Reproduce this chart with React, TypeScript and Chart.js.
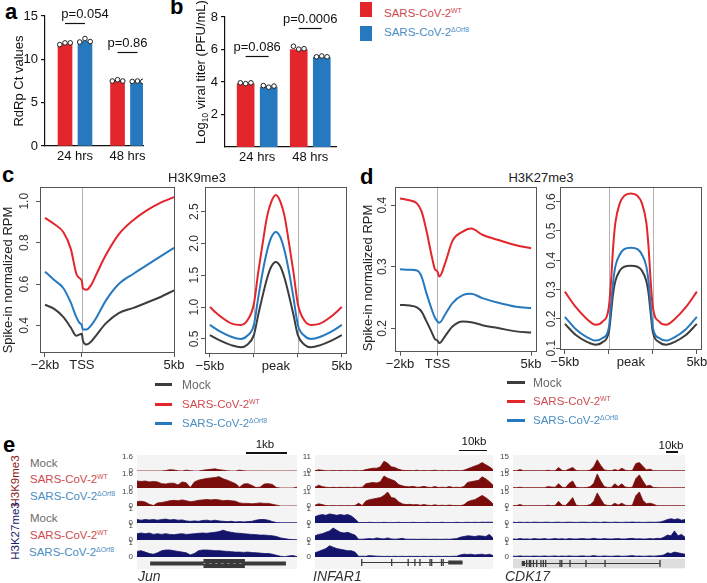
import React, { useEffect, useRef } from 'react';
import { Chart, registerables } from 'chart.js';

Chart.register(...registerables);
const FONT = '"Liberation Sans", Arial, Helvetica, sans-serif';
Chart.defaults.font.family = FONT;

// ---------------- colours ----------------
const RED = '#e2262b';
const BLUE = '#2779bf';
const DARK = '#3d3d3d';
const K9C = '#7a0c0c';
const K27C = '#14146b';
const GENE = '#3a3a3a';

// ---------------- panel a / b data ----------------
const timeLabels = ['24 hrs', '48 hrs'];
const ctWT = [11.8, 7.55];
const ctDel = [12.1, 7.45];
const ctDotsWT = [[11.7, 11.9, 11.9], [7.5, 7.65, 7.5]];
const ctDotsDel = [[12.0, 12.4, 12.05], [7.45, 7.5, 7.45]];
const ctP = ['p=0.054', 'p=0.86'];
const ctPY = [14.2, 10.9];

const titerWT = [3.9, 6.0];
const titerDel = [3.68, 5.52];
const titerDotsWT = [[3.95, 3.9, 3.95], [6.2, 6.02, 6.05]];
const titerDotsDel = [[3.78, 3.68, 3.75], [5.55, 5.6, 5.55]];
const titerP = ['p=0.086', 'p=0.0006'];
const titerPY = [5.58, 7.32];

const dotJitter = [-0.1, 0, 0.1];

// ---------------- panel c / d data ----------------
const tssKbC = [-2, -1.5, -1, -0.6, -0.3, -0.15, 0, 0.05, 0.25, 0.5, 0.8, 1.3, 2, 2.8, 3.5, 4.2, 5];
const k9TssWT = [0.92, 0.89, 0.85, 0.77, 0.65, 0.63, 0.615, 0.58, 0.572, 0.595, 0.65, 0.74, 0.84, 0.91, 0.955, 0.99, 1.02];
const k9TssDel = [0.66, 0.62, 0.58, 0.51, 0.44, 0.415, 0.4, 0.38, 0.38, 0.4, 0.44, 0.52, 0.6, 0.65, 0.69, 0.73, 0.775];
const k9TssMock = [0.5, 0.48, 0.44, 0.39, 0.35, 0.356, 0.36, 0.33, 0.308, 0.322, 0.355, 0.41, 0.46, 0.485, 0.51, 0.535, 0.57];

const peakPosC = [-1, -0.75, -0.5, -0.3, -0.15, 0, 0.1, 0.2, 0.3, 0.4, 0.5, 0.6, 0.7, 0.8, 0.9, 1, 1.15, 1.3, 1.5, 1.75, 2];
const k9PeakWT = [1.0, 0.85, 0.74, 0.72, 0.79, 1.05, 1.55, 2.0, 2.42, 2.66, 2.76, 2.66, 2.42, 2.0, 1.55, 1.05, 0.79, 0.72, 0.74, 0.85, 1.0];
const k9PeakDel = [0.72, 0.61, 0.53, 0.5, 0.55, 0.72, 1.15, 1.55, 1.88, 2.1, 2.18, 2.1, 1.88, 1.55, 1.15, 0.72, 0.55, 0.5, 0.53, 0.61, 0.72];
const k9PeakMock = [0.56, 0.47, 0.4, 0.37, 0.41, 0.56, 0.88, 1.18, 1.45, 1.64, 1.71, 1.64, 1.45, 1.18, 0.88, 0.56, 0.41, 0.37, 0.4, 0.47, 0.56];

const tssKbD = [-2, -1.5, -1.1, -0.85, -0.6, -0.3, -0.15, 0, 0.1, 0.4, 0.8, 1.35, 1.8, 2.4, 3.3, 4.2, 5];
const k27TssWT = [0.411, 0.408, 0.403, 0.39, 0.36, 0.316, 0.297, 0.292, 0.284, 0.305, 0.342, 0.357, 0.362, 0.352, 0.343, 0.335, 0.33];
const k27TssDel = [0.296, 0.295, 0.294, 0.284, 0.258, 0.23, 0.218, 0.211, 0.209, 0.222, 0.241, 0.254, 0.256, 0.249, 0.241, 0.235, 0.233];
const k27TssMock = [0.238, 0.237, 0.234, 0.227, 0.212, 0.193, 0.183, 0.18, 0.176, 0.187, 0.203, 0.211, 0.21, 0.205, 0.2, 0.195, 0.193];

const peakPosD = [-1, -0.75, -0.5, -0.3, -0.15, 0, 0.05, 0.1, 0.15, 0.25, 0.35, 0.5, 0.65, 0.75, 0.85, 0.9, 0.95, 1, 1.15, 1.3, 1.5, 1.75, 2];
const k27PeakWT = [0.293, 0.24, 0.2, 0.18, 0.19, 0.24, 0.33, 0.45, 0.53, 0.595, 0.62, 0.628, 0.62, 0.595, 0.53, 0.45, 0.33, 0.24, 0.19, 0.18, 0.2, 0.24, 0.293];
const k27PeakDel = [0.207, 0.165, 0.138, 0.126, 0.134, 0.17, 0.25, 0.33, 0.38, 0.42, 0.438, 0.443, 0.438, 0.42, 0.38, 0.33, 0.25, 0.17, 0.134, 0.126, 0.138, 0.165, 0.207];
const k27PeakMock = [0.183, 0.145, 0.122, 0.112, 0.12, 0.155, 0.22, 0.29, 0.33, 0.365, 0.378, 0.381, 0.378, 0.365, 0.33, 0.29, 0.22, 0.155, 0.12, 0.112, 0.122, 0.145, 0.183];

const tssTicks = [-2, 0, 5];
const tssTickLabels = ['\u22122kb', 'TSS', '5kb'];
const peakTicks = [-1, 0, 0.5, 1, 2];
const peakTickLabels = ['\u22125kb', '', 'peak', '', '5kb'];

// ---------------- panel e data (browser tracks) ----------------
const junK9Mock = [0, 0, 0, 0, 0, 0, 0, 0.05, 0.15, 0.12, 0.02, 0, 0.1, 0.03, 0, 0, 0.08, 0.15, 0.2, 0.25, 0.15, 0.1, 0.02, 0, 0, 0.1, 0.02, 0, 0, 0, 0, 0, 0, 0, 0, 0, 0, 0, 0, 0];
const junK9WT = [0.8, 0.75, 0.8, 0.7, 0.75, 0.7, 0.5, 0.45, 0.55, 0.55, 0.35, 0.7, 0.6, 0.05, 0.7, 0.9, 1.0, 1.1, 1.15, 1.2, 1.3, 1.05, 0.9, 0.7, 0.5, 0.1, 0.45, 0.5, 0.3, 0.05, 0.1, 0.45, 0.5, 0.4, 0.05, 0, 0, 0, 0, 0.1];
const junK9Del = [0.5, 0.55, 0.45, 0.2, 0.05, 0.35, 0.4, 0.5, 0.6, 0.65, 0.6, 0.7, 0.6, 0.5, 0.55, 0.65, 0.7, 0.75, 0.7, 0.75, 0.7, 0.6, 0.65, 0.6, 0.55, 0.35, 0.3, 0.3, 0.25, 0.3, 0.35, 0.3, 0.3, 0.2, 0.1, 0, 0, 0, 0, 0];
const junK27Mock = [0.25, 0.2, 0.25, 0.22, 0.25, 0.2, 0.25, 0.28, 0.22, 0.25, 0.2, 0.22, 0.15, 0.12, 0.15, 0.12, 0.18, 0.2, 0.15, 0.2, 0.15, 0.12, 0.1, 0.12, 0.08, 0.1, 0.08, 0.1, 0.12, 0.2, 0.25, 0.25, 0.2, 0.1, 0.03, 0.02, 0.02, 0.02, 0.02, 0.02];
const junK27WT = [0.45, 0.5, 0.45, 0.5, 0.4, 0.45, 0.4, 0.45, 0.4, 0.38, 0.42, 0.45, 0.4, 0.42, 0.45, 0.48, 0.5, 0.48, 0.52, 0.55, 0.6, 0.7, 0.6, 0.55, 0.5, 0.48, 0.45, 0.42, 0.4, 0.38, 0.35, 0.35, 0.33, 0.3, 0.25, 0.15, 0.1, 0.05, 0.03, 0.02];
const junK27Del = [0.4, 0.45, 0.35, 0.25, 0.2, 0.3, 0.45, 0.5, 0.5, 0.45, 0.4, 0.35, 0.3, 0.15, 0.25, 0.45, 0.5, 0.5, 0.48, 0.45, 0.45, 0.42, 0.4, 0.38, 0.35, 0.35, 0.33, 0.35, 0.32, 0.3, 0.28, 0.25, 0.25, 0.2, 0.12, 0.05, 0.02, 0.08, 0.1, 0.03];

const infK9Mock = [0.3, 0.9, 0.6, 0.2, 0.2, 0.3, 0.2, 0.4, 0.2, 0.3, 0.2, 0.3, 0.2, 0.3, 1.1, 1.7, 2.2, 2.2, 3.3, 7.7, 6.1, 3.3, 2.8, 1.3, 0.6, 0.3, 0.4, 0.2, 0.6, 0.2, 0.4, 0.2, 0.3, 0.6, 0.2, 0.3, 0.2, 0.4, 0.2, 0.3, 0.2, 0.6, 1.7, 2.8, 3.9, 5, 6.6, 5, 3.3, 1.1];
const infK9WT = [0.6, 2.2, 1.1, 0.6, 0.3, 0.6, 0.3, 0.6, 0.3, 0.6, 0.3, 0.6, 0.4, 0.6, 3.3, 3.9, 4.4, 3.9, 5, 9.4, 7.7, 6.6, 5.5, 2.8, 1.7, 1.1, 0.9, 1.3, 0.6, 0.7, 1.3, 0.6, 0.4, 1.1, 0.4, 0.6, 0.4, 1.1, 0.4, 0.6, 0.4, 1.1, 4.4, 5, 5.5, 6.1, 8.8, 7.2, 5, 2.2];
const infK9Del = [0.6, 1.7, 1.1, 0.3, 0.2, 0.3, 0.2, 0.3, 0.2, 0.3, 0.2, 0.3, 2.2, 0.3, 3.9, 5, 5.5, 6.1, 6.6, 8.3, 11, 6.6, 6.1, 3.3, 1.7, 1.1, 1.3, 0.9, 1.1, 0.6, 1.1, 0.6, 0.4, 0.9, 0.4, 0.6, 0.4, 0.7, 0.4, 0.4, 0.3, 0.9, 3.3, 4.4, 5, 6.6, 8.3, 6.6, 4.4, 1.7];
const infK27Mock = [0.45, 0.55, 0.6, 0.55, 0.65, 0.6, 0.55, 0.6, 0.55, 0.6, 0.5, 0.3, 0.03, 0.04, 0.03, 0.05, 0.03, 0.04, 0.03, 0.05, 0.03, 0.04, 0.03, 0.05, 0.03, 0.04, 0.03, 0.05, 0.03, 0.04, 0.03, 0.05, 0.03, 0.04, 0.03, 0.05, 0.03, 0.04, 0.03, 0.05, 0.03, 0.04, 0.05, 0.04, 0.05, 0.04, 0.06, 0.05, 0.06, 0.05];
const infK27WT = [0.3, 0.4, 0.45, 0.55, 0.65, 0.85, 0.7, 0.55, 0.5, 0.55, 0.45, 0.35, 0.05, 0.06, 0.08, 0.1, 0.08, 0.15, 0.1, 0.08, 0.15, 0.08, 0.06, 0.08, 0.12, 0.06, 0.05, 0.06, 0.05, 0.05, 0.06, 0.05, 0.05, 0.06, 0.05, 0.05, 0.06, 0.05, 0.08, 0.1, 0.2, 0.25, 0.3, 0.28, 0.25, 0.3, 0.28, 0.25, 0.4, 0.15];
const infK27Del = [0.3, 0.4, 0.5, 0.6, 0.8, 0.7, 0.6, 0.55, 0.5, 0.45, 0.45, 0.35, 0.05, 0.06, 0.05, 0.1, 0.08, 0.06, 0.05, 0.04, 0.05, 0.04, 0.05, 0.04, 0.05, 0.04, 0.05, 0.04, 0.05, 0.04, 0.05, 0.04, 0.05, 0.04, 0.05, 0.04, 0.05, 0.04, 0.05, 0.06, 0.15, 0.2, 0.18, 0.2, 0.15, 0.18, 0.2, 0.15, 0.2, 0.1];

const cdkK9Mock = [0.3, 0.3, 1.5, 0.3, 0.3, 0.3, 0.3, 0.3, 0.3, 0.3, 0.8, 0.3, 0.3, 3.8, 0.5, 0.4, 2.2, 3.8, 0.5, 0.3, 0.3, 0.3, 1, 4.5, 12, 6, 1.2, 0.5, 0.4, 1.5, 0.5, 3, 0.8, 0.4, 0.6, 8, 9, 5, 1.2, 2, 0.4, 0.3, 0.3, 0.3, 0.3, 0.3, 0.3, 0.3, 0.3, 0.3];
const cdkK9WT = [0.4, 0.4, 0.8, 0.3, 0.3, 0.4, 0.3, 0.4, 0.3, 0.4, 1.5, 1, 0.8, 4.5, 0.8, 0.6, 5, 7.5, 0.8, 0.4, 0.4, 0.5, 1.5, 5, 15, 7.5, 1.5, 0.6, 0.6, 4.5, 1.5, 4.5, 1, 0.5, 0.8, 10, 14, 7.5, 2, 3, 0.6, 0.4, 0.3, 0.3, 0.3, 0.3, 0.3, 0.3, 0.3, 0.3];
const cdkK9Del = [0.4, 0.5, 1.5, 0.4, 0.3, 0.4, 0.3, 0.4, 0.3, 0.4, 0.8, 0.4, 0.6, 5, 0.8, 0.5, 4.5, 9, 0.8, 0.4, 0.4, 0.5, 1.5, 5, 14, 7.5, 1.5, 0.6, 0.5, 3, 1, 3, 0.8, 0.5, 0.8, 11, 15, 6, 2.5, 3, 2, 0.4, 0.3, 0.3, 0.3, 0.3, 0.3, 0.3, 0.3, 0.3];
const cdkK27Mock = [0.05, 0.04, 0.06, 0.04, 0.05, 0.04, 0.06, 0.05, 0.04, 0.06, 0.05, 0.04, 0.05, 0.06, 0.04, 0.05, 0.06, 0.05, 0.04, 0.05, 0.06, 0.05, 0.04, 0.06, 0.05, 0.04, 0.07, 0.05, 0.04, 0.06, 0.05, 0.04, 0.06, 0.05, 0.07, 0.05, 0.06, 0.04, 0.05, 0.06, 0.05, 0.06, 0.08, 0.15, 0.25, 0.3, 0.25, 0.3, 0.2, 0.25];
const cdkK27WT = [0.08, 0.06, 0.1, 0.07, 0.08, 0.06, 0.1, 0.08, 0.07, 0.1, 0.06, 0.08, 0.1, 0.07, 0.09, 0.06, 0.1, 0.08, 0.07, 0.09, 0.1, 0.07, 0.08, 0.12, 0.08, 0.07, 0.1, 0.08, 0.07, 0.09, 0.1, 0.07, 0.08, 0.1, 0.12, 0.08, 0.09, 0.07, 0.08, 0.1, 0.08, 0.12, 0.1, 0.2, 0.35, 0.3, 0.65, 0.3, 0.4, 0.2];
const cdkK27Del = [0.06, 0.05, 0.08, 0.05, 0.06, 0.05, 0.07, 0.06, 0.05, 0.08, 0.05, 0.06, 0.08, 0.05, 0.07, 0.05, 0.08, 0.06, 0.05, 0.07, 0.08, 0.05, 0.06, 0.1, 0.06, 0.05, 0.08, 0.06, 0.05, 0.07, 0.08, 0.05, 0.06, 0.08, 0.1, 0.06, 0.07, 0.05, 0.06, 0.08, 0.06, 0.08, 0.1, 0.15, 0.3, 0.25, 0.35, 0.3, 0.25, 0.2];

// gene models (kb within the browser window)
const junWindow = 3.9;
const junIntron = [0.32, 3.63];
const junBlocks = [[1.62, 2.63]];
const junExons: number[] = [];
const infWindow = 63.6;
const infIntron = [16.7, 52.7];
const infBlocks = [[47.6, 52.7]];
const infExons = [16.7, 27.4, 33.3, 35.7, 37.5, 41.1, 41.7, 45.2, 45.8];
const cdkWindow = 143.3;
const cdkIntron = [7.3, 122.5];
const cdkBlocks = [[7.3, 10]];
const cdkExons = [11.4, 13.6, 14.75, 17, 19.75, 23.3, 25.25, 27.25, 39.2, 40.6, 47.5, 60.8, 76.7, 122.5];

// ---------------- helpers ----------------
const noPad = (s: any) => {
  s.paddingLeft = 0;
  s.paddingRight = 0;
  s.paddingTop = 0;
  s.paddingBottom = 0;
};

// ---------------- plugins ----------------
const framePlugin = {
  id: 'frame',
  beforeDatasetsDraw(chart: any, _a: any, opts: any) {
    const { ctx, chartArea: a } = chart;
    const xs = chart.scales.x;
    ctx.save();
    ctx.strokeStyle = '#b3b3b3';
    ctx.lineWidth = 1;
    (opts.vlines || []).forEach((v: number) => {
      const x = Math.round(xs.getPixelForValue(v)) + 0.5;
      ctx.beginPath();
      ctx.moveTo(x, a.top);
      ctx.lineTo(x, a.bottom);
      ctx.stroke();
    });
    ctx.restore();
  },
  afterDraw(chart: any, _a: any, opts: any) {
    const { ctx, chartArea: a } = chart;
    const ys = chart.scales.y;
    ctx.save();
    ctx.strokeStyle = '#555';
    ctx.lineWidth = 1;
    ctx.strokeRect(Math.round(a.left) + 0.5, Math.round(a.top) + 0.5, Math.round(a.right - a.left) - 1, Math.round(a.bottom - a.top) - 1);
    ctx.fillStyle = '#333';
    ctx.textAlign = 'center';
    ctx.textBaseline = 'middle';
    ctx.font = `12px ${FONT}`;
    const yl = opts.yLabels || [];
    (opts.yTicks || []).forEach((v: number, i: number) => {
      const y = ys.getPixelForValue(v);
      ctx.save();
      ctx.translate(opts.labelX, y);
      ctx.rotate(-Math.PI / 2);
      ctx.fillText(yl[i], 0, 0);
      ctx.restore();
    });
    if (opts.title) {
      ctx.font = `13px ${FONT}`;
      ctx.fillStyle = '#222';
      ctx.save();
      ctx.translate(opts.titleX, opts.titleY);
      ctx.rotate(-Math.PI / 2);
      ctx.fillText(opts.title, 0, 0);
      ctx.restore();
    }
    ctx.restore();
  },
};

const pvalPlugin = {
  id: 'pvals',
  afterDraw(chart: any, _a: any, opts: any) {
    const { ctx } = chart;
    const xs = chart.scales.x;
    const ys = chart.scales.y;
    ctx.save();
    ctx.strokeStyle = '#111';
    ctx.fillStyle = '#111';
    ctx.lineWidth = 1.2;
    ctx.font = `13px ${FONT}`;
    ctx.textAlign = 'center';
    ctx.textBaseline = 'alphabetic';
    const labels = opts.labels || [];
    labels.forEach((lab: string, i: number) => {
      const x0 = xs.getPixelForValue(i - opts.half);
      const x1 = xs.getPixelForValue(i + opts.half);
      const y = Math.round(ys.getPixelForValue(opts.ys[i])) + 0.5;
      ctx.beginPath();
      ctx.moveTo(x0, y);
      ctx.lineTo(x1, y);
      ctx.stroke();
      ctx.fillText(lab, (x0 + x1) / 2 + (opts.dx ? opts.dx[i] : 0), y - 5.5);
    });
    ctx.restore();
  },
};

// ---------------- config builders ----------------
function barConfig(p: any) {
  const { wt, del, dotsWT, dotsDel, half, barPx, xMin, xMax, yMax, yTicks, W, H, area, pLabels, pYs, pDx, title } = p;
  const dots = (arrs: number[][], sign: number) =>
    arrs.flatMap((arr, i) => arr.map((v, j) => ({ x: i + sign * half + dotJitter[j], y: v })));
  const dotDs = (arrs: number[][], sign: number) => ({
    type: 'scatter',
    data: dots(arrs, sign),
    pointRadius: 2.3,
    pointBackgroundColor: '#fff',
    pointBorderColor: '#222',
    pointBorderWidth: 1,
    order: 0,
  });
  return {
    type: 'bar',
    data: {
      datasets: [
        dotDs(dotsWT, -1),
        dotDs(dotsDel, 1),
        { type: 'bar', data: wt.map((v: number, i: number) => ({ x: i - half, y: v })), backgroundColor: RED, barThickness: barPx, grouped: false, order: 1 },
        { type: 'bar', data: del.map((v: number, i: number) => ({ x: i + half, y: v })), backgroundColor: BLUE, barThickness: barPx, grouped: false, order: 1 },
      ],
    },
    options: {
      animation: false,
      responsive: false,
      events: [],
      layout: { autoPadding: false, padding: { left: 0, top: area.t, right: W - area.r, bottom: 0 } },
      plugins: {
        legend: { display: false },
        tooltip: { enabled: false },
        pvals: { labels: pLabels, ys: pYs, half, dx: pDx },
      },
      scales: {
        x: {
          type: 'linear',
          min: xMin,
          max: xMax,
          offset: false,
          bounds: 'data',
          afterBuildTicks: (s: any) => { s.ticks = timeLabels.map((_t, i) => ({ value: i })); },
          afterFit: (s: any) => { s.height = H - area.b; noPad(s); },
          ticks: { autoSkip: false, maxRotation: 0, padding: 3, color: '#111', font: { size: 13 }, callback: (_v: any, i: number) => timeLabels[i] },
          grid: { display: false, drawTicks: false, offset: false },
          border: { display: true, color: '#111', width: 1.2 },
        },
        y: {
          type: 'linear',
          min: 0,
          max: yMax,
          afterBuildTicks: (s: any) => { s.ticks = yTicks.map((v: number) => ({ value: v })); },
          afterFit: (s: any) => { s.width = area.l; noPad(s); },
          ticks: { padding: 3, color: '#111', font: { size: 13 } },
          grid: { display: true, drawOnChartArea: false, drawTicks: true, tickLength: 4, color: '#111', lineWidth: 1.2 },
          border: { display: true, color: '#111', width: 1.2 },
          title: title
            ? { display: true, text: title, color: '#111', font: { size: 13 }, padding: { top: 12, bottom: 0 } }
            : { display: false },
        },
      },
    },
    plugins: [pvalPlugin],
  };
}

function profileConfig(p: any) {
  const { xs, series, xMin, xMax, yMin, yMax, xTicks, xLabels, yTicks, yLabels, vlines, W, H, area, labelX, title, titleX, titleY, hideTick } = p;
  return {
    type: 'line',
    data: {
      datasets: series.map((s: any) => ({
        data: xs.map((x: number, i: number) => ({ x, y: s.values[i] })),
        borderColor: s.color,
        borderWidth: 2,
        pointRadius: 0,
        fill: false,
        cubicInterpolationMode: 'monotone',
      })),
    },
    options: {
      animation: false,
      responsive: false,
      events: [],
      layout: { autoPadding: false, padding: { left: 0, top: area.t, right: W - area.r, bottom: 0 } },
      plugins: {
        legend: { display: false },
        tooltip: { enabled: false },
        frame: { vlines, yTicks, yLabels, labelX, title, titleX, titleY },
      },
      scales: {
        x: {
          type: 'linear',
          min: xMin,
          max: xMax,
          afterBuildTicks: (s: any) => { s.ticks = xTicks.map((v: number) => ({ value: v })); },
          afterFit: (s: any) => { s.height = H - area.b; noPad(s); },
          ticks: { autoSkip: false, maxRotation: 0, minRotation: 0, padding: 1, color: '#222', font: { size: 13 }, callback: (_v: any, i: number) => xLabels[i] },
          grid: {
            display: true,
            drawOnChartArea: false,
            drawTicks: true,
            tickLength: 4,
            color: '#555',
            tickColor: (c: any) => (c.tick && c.tick.value === hideTick ? 'rgba(0,0,0,0)' : '#555'),
          },
          border: { display: false },
        },
        y: {
          type: 'linear',
          min: yMin,
          max: yMax,
          afterBuildTicks: (s: any) => { s.ticks = yTicks.map((v: number) => ({ value: v })); },
          afterFit: (s: any) => { s.width = area.l; noPad(s); },
          ticks: { display: false },
          grid: { display: true, drawOnChartArea: false, drawTicks: true, tickLength: 4, color: '#555' },
          border: { display: false },
        },
      },
    },
    plugins: [framePlugin],
  };
}

function trackConfig(values: number[], max: number, color: string) {
  return {
    type: 'line',
    data: {
      labels: values.map((_v, i) => String(i)),
      datasets: [
        { data: values, borderColor: color, backgroundColor: color, borderWidth: 0.8, pointRadius: 0, fill: 'origin', tension: 0 },
      ],
    },
    options: {
      animation: false,
      responsive: false,
      events: [],
      layout: { autoPadding: false, padding: { top: 4, bottom: 3, left: 0, right: 0 } },
      plugins: { legend: { display: false }, tooltip: { enabled: false } },
      scales: {
        x: { display: false },
        y: {
          min: 0,
          max,
          afterBuildTicks: (s: any) => { s.ticks = [{ value: 0 }, { value: max }]; },
          afterFit: (s: any) => { s.width = 19; noPad(s); },
          ticks: { font: { size: 8 }, color: '#444', padding: 4, autoSkip: false, callback: (v: any) => String(v) },
          grid: { display: false, drawTicks: false },
          border: { display: false },
        },
      },
    },
  };
}

function geneConfig(win: number, intron: number[], intronW: number, blocks: number[][], blockW: number, exons: number[], dashed = false) {
  const blockData: any[] = [];
  blocks.forEach(([a, b]) => {
    blockData.push({ x: a, y: 0 }, { x: b, y: 0 }, { x: b, y: null });
  });
  const datasets: any[] = [];
  if (dashed) {
    datasets.push({ data: blockData, borderColor: '#9a9a9a', borderWidth: 1, borderDash: [2, 4], pointRadius: 0, spanGaps: false });
  }
  datasets.push(
    { data: [{ x: intron[0], y: 0 }, { x: intron[1], y: 0 }], borderColor: GENE, borderWidth: intronW, pointRadius: 0, borderCapStyle: 'butt' },
    { data: blockData, borderColor: GENE, borderWidth: blockW, pointRadius: 0, spanGaps: false, borderCapStyle: 'butt' },
    {
      type: 'scatter',
      data: exons.map((x) => ({ x, y: 0 })),
      pointStyle: 'line',
      pointRotation: 90,
      pointRadius: 3.5,
      pointBorderColor: GENE,
      pointBorderWidth: 1.3,
    }
  );
  return {
    type: 'line',
    data: { datasets },
    options: {
      animation: false,
      responsive: false,
      events: [],
      layout: { autoPadding: false, padding: 0 },
      plugins: { legend: { display: false }, tooltip: { enabled: false } },
      scales: {
        x: { type: 'linear', min: 0, max: win, display: false },
        y: { type: 'linear', min: -1, max: 1, display: false },
      },
    },
  };
}

// ---------------- components ----------------
function ChartCanvas({ x, y, w, h, config }: { x: number; y: number; w: number; h: number; config: () => any }) {
  const ref = useRef<HTMLCanvasElement | null>(null);
  useEffect(() => {
    const chart = new Chart(ref.current as HTMLCanvasElement, config());
    return () => chart.destroy();
  }, []);
  return <canvas ref={ref} width={w} height={h} style={{ position: 'absolute', left: x, top: y, width: w, height: h }} />;
}

function Txt(p: any) {
  const { x, y, children, size = 13, color = '#222', anchor = 'left', bold = false, italic = false, rot = false } = p;
  const tx = anchor === 'center' ? '-50%' : anchor === 'right' ? '-100%' : '0';
  const transform = rot ? 'translate(-50%,-50%) rotate(-90deg)' : `translate(${tx},-50%)`;
  return (
    <div
      style={{
        position: 'absolute',
        left: x,
        top: y,
        transform,
        fontSize: size,
        lineHeight: 1,
        color,
        fontWeight: bold ? 700 : 400,
        fontStyle: italic ? 'italic' : 'normal',
        whiteSpace: 'nowrap',
        fontFamily: FONT,
      }}
    >
      {children}
    </div>
  );
}

const Sup = ({ children }: any) => <span style={{ fontSize: '0.6em', position: 'relative', top: '-0.6em' }}>{children}</span>;
const Sub = ({ children }: any) => <span style={{ fontSize: '0.65em', position: 'relative', top: '0.35em' }}>{children}</span>;

const Box = ({ x, y, w, h, c }: any) => <div style={{ position: 'absolute', left: x, top: y, width: w, height: h, background: c }} />;

const WT_TXT = '#d04a4d';
const DEL_TXT = '#4a8dc2';
const MOCK_TXT = '#6a6a6a';

const trackBaselines = [471, 488, 506, 523, 540, 557];
const trackCols = [
  { left: 137, width: 160, k9Max: 1.6, k27Max: 1, tracks: [junK9Mock, junK9WT, junK9Del, junK27Mock, junK27WT, junK27Del] },
  { left: 315, width: 178, k9Max: 11, k27Max: 1, tracks: [infK9Mock, infK9WT, infK9Del, infK27Mock, infK27WT, infK27Del] },
  { left: 513, width: 172, k9Max: 15, k27Max: 1, tracks: [cdkK9Mock, cdkK9WT, cdkK9Del, cdkK27Mock, cdkK27WT, cdkK27Del] },
];

export default function App() {
  const aW = 152, aH = 170;
  const bW = 185, bH = 170;
  const pH = 210;
  return (
    <div style={{ position: 'fixed', left: 0, top: 0, width: 707, height: 583, background: '#fff', overflow: 'hidden', fontFamily: FONT }}>
      {/* panel letters */}
      <Txt x={5} y={12.4} size={22} bold color="#000">a</Txt>
      <Txt x={170} y={7.4} size={22} bold color="#000">b</Txt>
      <Txt x={2} y={175.4} size={22} bold color="#000">c</Txt>
      <Txt x={360} y={177.4} size={22} bold color="#000">d</Txt>
      <Txt x={3} y={445.4} size={22} bold color="#000">e</Txt>

      {/* panel a */}
      <ChartCanvas
        x={0}
        y={0}
        w={aW}
        h={aH}
        config={() =>
          barConfig({
            wt: ctWT, del: ctDel, dotsWT: ctDotsWT, dotsDel: ctDotsDel,
            half: 0.19, barPx: 14, xMin: -0.571, xMax: 1.295, yMax: 15, yTicks: [0, 5, 10, 15],
            W: aW, H: aH, area: { l: 45, r: 143, t: 16, b: 146 },
            pLabels: ctP, pYs: ctPY, pDx: [10, 0], title: 'RdRp Ct values',
          })
        }
      />

      {/* panel b */}
      <ChartCanvas
        x={160}
        y={0}
        w={bW}
        h={bH}
        config={() =>
          barConfig({
            wt: titerWT, del: titerDel, dotsWT: titerDotsWT, dotsDel: titerDotsDel,
            half: 0.217, barPx: 17, xMin: -0.606, xMax: 1.485, yMax: 8, yTicks: [2, 4, 6, 8],
            W: bW, H: bH, area: { l: 65, r: 176, t: 17, b: 147 },
            pLabels: titerP, pYs: titerPY, pDx: [0, 0],
          })
        }
      />
      <Txt x={200} y={72} rot size={13} color="#111">
        Log<Sub>10</Sub> viral titer (PFU/mL)
      </Txt>

      {/* top-right legend */}
      <Box x={360} y={2} w={12} h={15} c={RED} />
      <Box x={360} y={26} w={12} h={15} c={BLUE} />
      <Txt x={384} y={14} size={11.5} color={WT_TXT}>SARS-CoV-2<Sup>WT</Sup></Txt>
      <Txt x={384} y={33} size={11.5} color={DEL_TXT}>SARS-CoV-2<Sup>ΔOrf8</Sup></Txt>

      {/* panel c */}
      <Txt x={197} y={177} anchor="center" size={13}>H3K9me3</Txt>
      <ChartCanvas
        x={0}
        y={165}
        w={195}
        h={pH}
        config={() =>
          profileConfig({
            xs: tssKbC,
            series: [
              { values: k9TssWT, color: RED },
              { values: k9TssDel, color: BLUE },
              { values: k9TssMock, color: DARK },
            ],
            xMin: -2.27, xMax: 5.05, yMin: 0.267, yMax: 1.069,
            xTicks: tssTicks, xLabels: tssTickLabels,
            yTicks: [0.4, 0.6, 0.8, 1.0], yLabels: ['0.4', '0.6', '0.8', '1.0'],
            vlines: [0], W: 195, H: pH, area: { l: 40, r: 175, t: 22, b: 188 },
            labelX: 25, title: 'Spike-in normalized RPM', titleX: 8.5, titleY: 115,
          })
        }
      />
      <ChartCanvas
        x={178}
        y={165}
        w={182}
        h={pH}
        config={() =>
          profileConfig({
            xs: peakPosC,
            series: [
              { values: k9PeakWT, color: RED },
              { values: k9PeakDel, color: BLUE },
              { values: k9PeakMock, color: DARK },
            ],
            xMin: -1.11, xMax: 2.11, yMin: 0.275, yMax: 2.89,
            xTicks: peakTicks, xLabels: peakTickLabels, hideTick: 0.5,
            yTicks: [0.5, 1.0, 1.5, 2.0, 2.5], yLabels: ['0.5', '1.0', '1.5', '2.0', '2.5'],
            vlines: [0, 1], W: 182, H: pH, area: { l: 27, r: 168.7, t: 21.7, b: 188.3 },
            labelX: 17,
          })
        }
      />
      {/* legend c */}
      <Box x={155} y={383} w={17} h={3} c={DARK} />
      <Box x={155} y={403} w={17} h={3} c={RED} />
      <Box x={155} y={422} w={17} h={3} c={BLUE} />
      <Txt x={182} y={385} size={12} color={MOCK_TXT}>Mock</Txt>
      <Txt x={182} y={405} size={11.5} color={WT_TXT}>SARS-CoV-2<Sup>WT</Sup></Txt>
      <Txt x={182} y={424} size={11.5} color={DEL_TXT}>SARS-CoV-2<Sup>ΔOrf8</Sup></Txt>

      {/* panel d */}
      <Txt x={541} y={177} anchor="center" size={13}>H3K27me3</Txt>
      <ChartCanvas
        x={355}
        y={165}
        w={200}
        h={pH}
        config={() =>
          profileConfig({
            xs: tssKbD,
            series: [
              { values: k27TssWT, color: RED },
              { values: k27TssDel, color: BLUE },
              { values: k27TssMock, color: DARK },
            ],
            xMin: -2.27, xMax: 5.3, yMin: 0.162, yMax: 0.43,
            xTicks: tssTicks, xLabels: tssTickLabels,
            yTicks: [0.2, 0.3, 0.4], yLabels: ['0.2', '0.3', '0.4'],
            vlines: [0], W: 200, H: pH, area: { l: 40, r: 181.7, t: 21.7, b: 186.7 },
            labelX: 28, title: 'Spike-in normalized RPM', titleX: 13, titleY: 113,
          })
        }
      />
      <ChartCanvas
        x={542}
        y={165}
        w={165}
        h={pH}
        config={() =>
          profileConfig({
            xs: peakPosD,
            series: [
              { values: k27PeakWT, color: RED },
              { values: k27PeakDel, color: BLUE },
              { values: k27PeakMock, color: DARK },
            ],
            xMin: -1.11, xMax: 2.11, yMin: 0.094, yMax: 0.651,
            xTicks: peakTicks, xLabels: peakTickLabels, hideTick: 0.5,
            yTicks: [0.1, 0.2, 0.3, 0.4, 0.5, 0.6], yLabels: ['0.1', '0.2', '0.3', '0.4', '0.5', '0.6'],
            vlines: [0, 1], W: 165, H: pH, area: { l: 18, r: 159.7, t: 21.7, b: 185 },
            labelX: 9.7,
          })
        }
      />
      {/* legend d */}
      <Box x={507} y={381} w={18} h={3} c={DARK} />
      <Box x={507} y={400} w={18} h={3} c={RED} />
      <Box x={507} y={419} w={18} h={3} c={BLUE} />
      <Txt x={533} y={383} size={12} color={MOCK_TXT}>Mock</Txt>
      <Txt x={533} y={402} size={11.5} color={WT_TXT}>SARS-CoV-2<Sup>WT</Sup></Txt>
      <Txt x={533} y={421} size={11.5} color={DEL_TXT}>SARS-CoV-2<Sup>ΔOrf8</Sup></Txt>

      {/* panel e */}
      <Txt x={16} y={481} rot size={11.5} color="#8b1b1b">H3K9me3</Txt>
      <Txt x={16} y={531} rot size={11.5} color="#1b1b6b">H3K27me3</Txt>
      <Txt x={30} y={464} size={11.5} color={MOCK_TXT}>Mock</Txt>
      <Txt x={30} y={480} size={11.5} color={WT_TXT}>SARS-CoV-2<Sup>WT</Sup></Txt>
      <Txt x={30} y={497} size={11.5} color={DEL_TXT}>SARS-CoV-2<Sup>ΔOrf8</Sup></Txt>
      <Txt x={30} y={519} size={11.5} color={MOCK_TXT}>Mock</Txt>
      <Txt x={30} y={536} size={11.5} color={WT_TXT}>SARS-CoV-2<Sup>WT</Sup></Txt>
      <Txt x={29} y={553} size={11.5} color={DEL_TXT}>SARS-CoV-2<Sup>ΔOrf8</Sup></Txt>

      {trackCols.map((col, ci) => (
        <Box key={'bg' + ci} x={col.left} y={455} w={col.width} h={114} c="#f4f4f4" />
      ))}
      <Box x={513} y={559} w={172} h={9} c="#dedede" />

      {trackCols.map((col, ci) =>
        col.tracks.map((vals, ti) => (
          <ChartCanvas
            key={`t${ci}-${ti}`}
            x={col.left - 19}
            y={trackBaselines[ti] - 18}
            w={col.width + 19}
            h={21}
            config={() => trackConfig(vals, ti < 3 ? col.k9Max : col.k27Max, ti < 3 ? K9C : K27C)}
          />
        ))
      )}

      <ChartCanvas x={137} y={557} w={160} h={13} config={() => geneConfig(junWindow, junIntron, 4, junBlocks, 9, junExons, true)} />
      <ChartCanvas x={315} y={556} w={178} h={13} config={() => geneConfig(infWindow, infIntron, 1, infBlocks, 4, infExons)} />
      <ChartCanvas x={513} y={557} w={172} h={13} config={() => geneConfig(cdkWindow, cdkIntron, 1, cdkBlocks, 5, cdkExons)} />

      {/* scale bars */}
      <Box x={246} y={452} w={41} h={1.5} c="#111" />
      <Txt x={265} y={445} anchor="center" size={11.5} color="#111">1kb</Txt>
      <Box x={459} y={449.5} w={28} h={1.5} c="#111" />
      <Txt x={474} y={442} anchor="center" size={11.5} color="#111">10kb</Txt>
      <Box x={666} y={451} w={12} h={1.5} c="#111" />
      <Txt x={671} y={446} anchor="center" size={11.5} color="#111">10kb</Txt>

      {/* gene names */}
      <Txt x={138} y={576} size={14} italic color="#333">Jun</Txt>
      <Txt x={313} y={576} size={14} italic color="#333">INFAR1</Txt>
      <Txt x={505} y={576} size={14} italic color="#333">CDK17</Txt>
    </div>
  );
}
